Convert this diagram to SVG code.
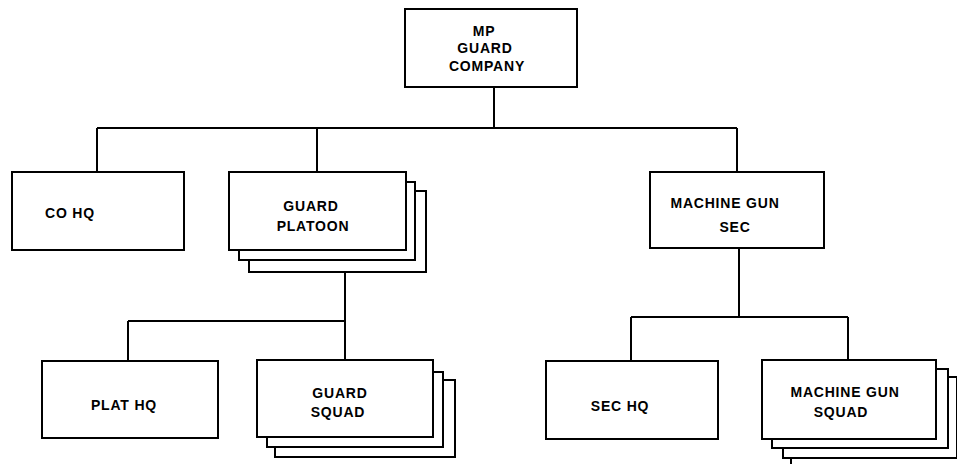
<svg xmlns="http://www.w3.org/2000/svg" width="957" height="464" viewBox="0 0 957 464">
<style>
.box{fill:#fff;stroke:#000;stroke-width:2}
.ln{fill:none;stroke:#000;stroke-width:2}
text{font-family:"Liberation Sans",Arial,sans-serif;font-weight:bold;font-size:14px;letter-spacing:0.8px;text-anchor:middle;fill:#000}
</style>
<rect width="957" height="464" fill="#fff"/>
<g id="connectors">
<path class="ln" d="M494 87V128M97 128H737M97 128V172M317 128V172M737 128V172"/>
<path class="ln" d="M345 272V321M128 321H345M128 321V361M345 321V360"/>
<path class="ln" d="M739 248V317M631 317H848M631 317V361M848 317V360"/>
<path class="ln" d="M791 458V464"/>
</g>
<g id="mp-guard-company">
<rect class="box" x="405" y="9" width="172" height="78"/>
<text x="484" y="36">MP</text>
<text x="485" y="53">GUARD</text>
<text x="487" y="71">COMPANY</text>
</g>
<g id="co-hq">
<rect class="box" x="12" y="172" width="172" height="78"/>
<text x="70" y="218">CO HQ</text>
</g>
<g id="guard-platoon">
<rect class="box" x="249" y="191" width="177" height="81"/>
<rect class="box" x="239" y="182" width="176" height="78"/>
<rect class="box" x="229" y="172" width="177" height="78"/>
<text x="311" y="211">GUARD</text>
<text x="313" y="231">PLATOON</text>
</g>
<g id="machine-gun-sec">
<rect class="box" x="650" y="172" width="174" height="76"/>
<text x="725" y="208">MACHINE GUN</text>
<text x="735" y="232">SEC</text>
</g>
<g id="plat-hq">
<rect class="box" x="42" y="361" width="176" height="77"/>
<text x="124" y="410">PLAT HQ</text>
</g>
<g id="guard-squad">
<rect class="box" x="275" y="380" width="180" height="77"/>
<rect class="box" x="267" y="372" width="176" height="75"/>
<rect class="box" x="257" y="360" width="176" height="77"/>
<text x="340" y="398">GUARD</text>
<text x="338" y="417">SQUAD</text>
</g>
<g id="sec-hq">
<rect class="box" x="546" y="361" width="172" height="78"/>
<text x="620" y="411">SEC HQ</text>
</g>
<g id="machine-gun-squad">
<rect class="box" x="783" y="377" width="174" height="81"/>
<rect class="box" x="772" y="369" width="176" height="79"/>
<rect class="box" x="762" y="360" width="174" height="79"/>
<text x="845" y="397">MACHINE GUN</text>
<text x="841" y="417">SQUAD</text>
</g>
</svg>
